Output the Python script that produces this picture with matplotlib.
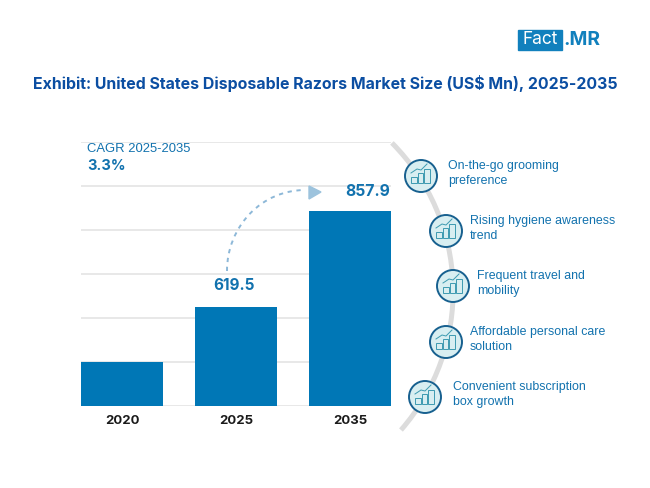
import numpy as np
import matplotlib
matplotlib.use("Agg")
import matplotlib.pyplot as plt
from matplotlib.patches import Circle, Rectangle, Polygon, Arc

years = ["2020", "2025", "2035"]
bar_heights = [193.6, 435.5, 857.9]
bar_labels = [None, "619.5", "857.9"]
grid_step = 193.6
drivers = ["On-the-go grooming\npreference", "Rising hygiene awareness\ntrend",
           "Frequent travel and\nmobility", "Affordable personal care\nsolution",
           "Convenient subscription\nbox growth"]
title = "Exhibit: United States Disposable Razors Market Size (US$ Mn), 2025-2035"

BLUE = "#0077b6"
TEXT = "#1272ae"
NAVY = "#0b4ea2"
plt.rcParams["font.family"] = ["Inter", "DejaVu Sans"]

fig = plt.figure(figsize=(6.5, 4.88), dpi=100)
W, H = 650, 488
ax = fig.add_axes([81/W, 1-406/H, 310/W, 264/H])
ax.set_xlim(-0.36, 2.36)
ax.set_ylim(0, grid_step*6)
ax.set_axisbelow(True)
ax.set_yticks(np.arange(0, 7)*grid_step)
ax.tick_params(left=False, labelleft=False, bottom=False, pad=3)
ax.grid(axis="y", color="#e2e2e2", lw=1.1)
ax.grid(axis="x", visible=False)
for s in ax.spines.values():
    s.set_visible(False)
ax.bar(range(3), bar_heights, width=0.719, color=BLUE, zorder=3)
ax.set_xticks(range(3), years, fontsize=9.5, fontweight="bold", color="#1a1a1a")
ax.patch.set_alpha(0)

o = fig.add_axes([0, 0, 1, 1], zorder=5)
o.set_xlim(0, W); o.set_ylim(H, 0); o.axis("off")

o.text(33, 84, title, fontsize=11.45, fontweight="bold", color=NAVY, va="center", ha="left")

# logo
o.add_patch(Rectangle((518, 30), 44, 20, color="#1180bd"))
o.text(540, 40, "Fact", color="white", fontsize=12.5, ha="center", va="center")
o.text(563, 40, ".MR", color="#1180bd", fontsize=13.8, fontweight="bold", ha="left", va="center")

o.text(87, 149.5, "CAGR 2025-2035", fontsize=9.4, color=TEXT, va="center", family=["Liberation Sans"])
o.text(87, 166, "3.3%", fontsize=10.5, fontweight="bold", color=TEXT, va="center")
o.text(367.5, 192, bar_labels[2], fontsize=11.3, fontweight="bold", color=TEXT, ha="center", va="center")
o.text(234.5, 285, bar_labels[1], fontsize=11, fontweight="bold", color=TEXT, ha="center", va="center")

# dashed curve and arrow head
o.add_patch(Arc((305, 271), 156, 162, theta1=180, theta2=270, color="#8db8d8", lw=1.4, ls=(0, (2.2, 2.4))))
o.add_patch(Polygon([[309, 186], [321, 192], [309, 199]], color="#9dc3dd"))

# side arc
o.add_patch(Arc((242.5, 291.3), 421.2, 421.2, theta1=-44.8, theta2=41.2, color="#dcdcdc", lw=3.6))

centers = [(421, 176), (446, 231), (453, 286), (446, 342), (425, 397)]
text_x = [448, 470, 477, 470, 453]
for (cx, cy), tx, d in zip(centers, text_x, drivers):
    o.add_patch(Circle((cx, cy), 16, fc="#d8eef1", ec="#17608f", lw=1.4, zorder=3))
    for dx, h in zip((-10, -3.5, 3), (6, 10, 14)):
        o.add_patch(Rectangle((cx+dx, cy+7-h), 5.5, h, fc="none", ec="#3d9ab0", lw=0.7, zorder=4))
    o.plot([cx-10, cx-4, cx, cx+6], [cy-3, cy-7, cy-6, cy-12], color="#3d9ab0", lw=0.7, zorder=4)
    o.text(tx, cy-2.2, d, fontsize=8.9, color=TEXT, va="center", ha="left", linespacing=1.3,
           family=["Liberation Sans"])

fig.savefig("out.png", dpi=100, facecolor="white")
